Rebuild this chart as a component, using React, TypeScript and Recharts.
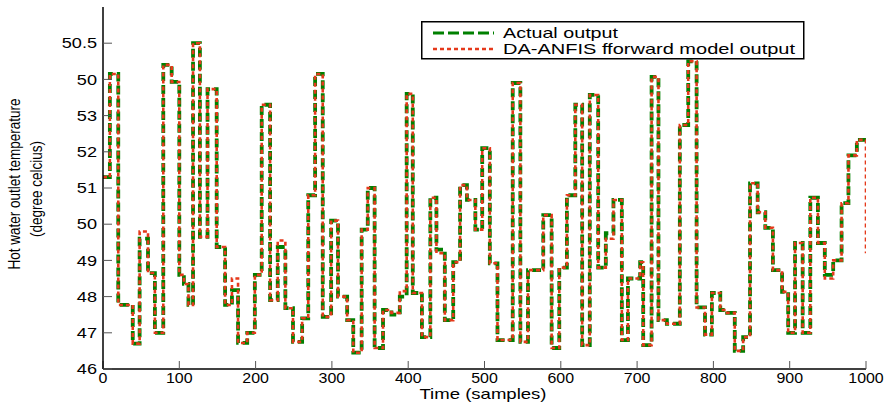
import React from 'react';
import { LineChart, Line, XAxis, YAxis, Legend } from 'recharts';

const SAMPLE = [
  0, 9, 20, 39, 48, 59, 68, 79, 90, 100,
  106, 112, 118, 127, 137, 149, 160, 169, 177, 189,
  199, 208, 219, 229, 239, 249, 261, 269, 278, 288,
  299, 308, 320, 328, 339, 347, 356, 367, 378, 389,
  398, 406, 418, 429, 437, 448, 459, 468, 477, 488,
  497, 507, 517, 537, 547, 557, 577, 588, 598, 608,
  619, 628, 638, 649, 659, 669, 680, 688, 704, 708,
  719, 728, 739, 756, 767, 778, 789, 798, 809, 818,
  828, 839, 848, 858, 868, 878, 890, 898, 907, 917,
  927, 937, 946, 957, 968, 977, 988, 1000,
];

const ACTUAL = [
  51.3, 54.15, 47.77, 46.7, 49.6, 48.65, 47.0, 54.4, 53.93, 48.6,
  48.35, 47.77, 55.0, 49.65, 53.73, 49.37, 47.77, 48.18, 46.72, 47.0,
  48.6, 53.3, 47.9, 49.37, 47.68, 46.75, 47.4, 50.8, 54.15, 47.44,
  50.1, 48.0, 47.35, 46.45, 49.85, 51.0, 46.58, 47.63, 47.5, 48.0,
  53.6, 48.1, 46.88, 50.73, 49.3, 47.35, 48.95, 51.08, 50.67, 49.85,
  52.1, 48.92, 46.8, 53.9, 46.75, 48.73, 50.25, 46.58, 48.8, 50.8,
  53.3, 46.66, 53.57, 48.8, 49.75, 50.67, 46.8, 48.5, 48.95, 46.66,
  54.07, 47.35, 47.25, 52.74, 54.5, 47.7, 46.95, 48.1, 47.63, 47.55,
  46.5, 46.88, 51.13, 50.33, 49.9, 48.73, 48.13, 47.0, 49.48, 47.0,
  50.73, 49.48, 48.6, 49.0, 50.58, 51.9, 52.33, 52.33,
];

const MODEL = [
  51.3, 54.15, 47.77, 46.7, 49.8, 48.65, 47.0, 54.4, 53.93, 48.6,
  48.35, 47.77, 55.0, 49.65, 53.73, 49.37, 47.77, 48.5, 46.72, 47.0,
  48.6, 53.3, 47.9, 49.55, 47.68, 46.75, 47.4, 50.8, 54.15, 47.44,
  50.1, 48.0, 47.35, 46.45, 49.85, 51.0, 46.58, 47.63, 47.55, 48.15,
  53.6, 48.1, 46.88, 50.73, 49.2, 47.35, 48.95, 51.08, 50.67, 49.85,
  52.1, 48.92, 46.8, 53.9, 46.75, 48.73, 50.25, 46.58, 48.8, 50.8,
  53.3, 46.66, 53.57, 48.8, 49.6, 50.67, 46.8, 48.5, 48.95, 46.66,
  54.07, 47.35, 47.25, 52.74, 54.5, 47.7, 46.95, 48.1, 47.63, 47.55,
  46.5, 46.88, 51.13, 50.33, 49.9, 48.73, 48.13, 47.0, 49.48, 47.0,
  50.73, 49.48, 48.5, 49.0, 50.58, 51.9, 52.33, 49.2,
];

const X_TICKS = [0, 100, 200, 300, 400, 500, 600, 700, 800, 900, 1000];
const Y_TICKS = [46, 47, 48, 49, 50, 51, 52, 53, 54, 55];
const Y_TICK_LABELS = ['46', '47', '48', '49', '50', '51', '52', '53', '50', '50.5'];

const SERIES_NAMES = ['Actual output', 'DA-ANFIS fforward model output'];
const X_TITLE = 'Time (samples)';
const Y_TITLE = ['Hot water outlet temperature', '(degree celcius)'];

const GREEN = '#008000';
const RED = '#e5391b';
const FONT = '"Liberation Sans", Arial, Helvetica, sans-serif';

const data = SAMPLE.map((s, i) => ({ sample: s, actual: ACTUAL[i], model: MODEL[i] }));

const YTick = (props: any) => {
  const { x, y, payload } = props;
  const idx = Y_TICKS.indexOf(payload.value);
  const label = idx >= 0 ? Y_TICK_LABELS[idx] : String(payload.value);
  return (
    <text
      transform={`translate(${x},${y}) scale(1.25,1)`}
      x={0}
      y={0}
      dy="0.36em"
      textAnchor="end"
      fontSize={14.5}
      fill="#000"
      fontFamily={FONT}
    >
      {label}
    </text>
  );
};

const XTick = (props: any) => {
  const { x, y, payload } = props;
  return (
    <text
      transform={`translate(${x},${y}) scale(1.1,1)`}
      x={0}
      y={0}
      dy="0.72em"
      textAnchor="middle"
      fontSize={14.5}
      fill="#000"
      fontFamily={FONT}
    >
      {payload.value}
    </text>
  );
};

const YTitle = () => (
  <g fontFamily={FONT} fontSize={13.5} fill="#000">
    <text transform="translate(20,184) scale(1.2,1) rotate(-90)" textAnchor="middle">
      {Y_TITLE[0]}
    </text>
    <text transform="translate(42,189) scale(1.2,1) rotate(-90)" textAnchor="middle">
      {Y_TITLE[1]}
    </text>
  </g>
);

const XTitle = () => (
  <text
    transform="translate(483,399) scale(1.28,1)"
    textAnchor="middle"
    fontSize={14.5}
    fill="#000"
    fontFamily={FONT}
  >
    {X_TITLE}
  </text>
);

const renderLegend = () => (
  <svg width={384} height={39} style={{ display: 'block', overflow: 'visible' }}>
    <rect x={0.75} y={0.75} width={382} height={37} fill="#fff" stroke="#000" strokeWidth={1.5} />
    <line x1={12} x2={73} y1={12} y2={12} stroke={GREEN} strokeWidth={3} strokeDasharray="11 4" />
    <text x={82} y={17} fontSize={14.5} fill="#000" fontFamily={FONT} textLength={115} lengthAdjust="spacingAndGlyphs">
      {SERIES_NAMES[0]}
    </text>
    <line x1={12} x2={73} y1={28} y2={28} stroke={RED} strokeWidth={2.5} strokeDasharray="4 3" />
    <text x={82} y={33} fontSize={14.5} fill="#000" fontFamily={FONT} textLength={292} lengthAdjust="spacingAndGlyphs">
      {SERIES_NAMES[1]}
    </text>
  </svg>
);

export default function App() {
  return (
    <div style={{ position: 'absolute', left: 0, top: 0, width: 890, height: 406, background: '#fff' }}>
      <LineChart
        width={890}
        height={406}
        data={data}
        margin={{ top: 7, right: 24, bottom: 0, left: 0 }}
        style={{ fontFamily: FONT }}
      >
        <XAxis
          dataKey="sample"
          type="number"
          domain={[0, 1000]}
          ticks={X_TICKS}
          allowDataOverflow
          height={37}
          tickSize={-8}
          tickMargin={12}
          tick={<XTick />}
          axisLine={{ stroke: '#000', strokeWidth: 1.5 }}
          tickLine={{ stroke: '#555', strokeWidth: 1 }}
          label={{ content: () => <XTitle /> }}
        />
        <XAxis
          xAxisId="top"
          orientation="top"
          dataKey="sample"
          type="number"
          domain={[0, 1000]}
          ticks={X_TICKS}
          allowDataOverflow
          height={0}
          tickSize={-7}
          tick={false}
          axisLine={{ stroke: '#000', strokeWidth: 1 }}
          tickLine={{ stroke: '#555', strokeWidth: 1 }}
        />
        <YAxis
          type="number"
          domain={[46, 56]}
          ticks={Y_TICKS}
          allowDataOverflow
          width={103}
          tickSize={-9}
          tickMargin={15}
          tick={<YTick />}
          axisLine={{ stroke: '#000', strokeWidth: 1.5 }}
          tickLine={{ stroke: '#555', strokeWidth: 1 }}
          label={{ content: () => <YTitle /> }}
        />
        <YAxis
          yAxisId="right"
          orientation="right"
          type="number"
          domain={[46, 56]}
          ticks={Y_TICKS}
          allowDataOverflow
          width={0}
          tickSize={-8}
          tick={false}
          axisLine={{ stroke: '#000', strokeWidth: 1 }}
          tickLine={{ stroke: '#555', strokeWidth: 1 }}
        />
        <Legend
          layout="horizontal"
          verticalAlign="middle"
          align="center"
          content={renderLegend}
          wrapperStyle={{ position: 'absolute', left: 421, top: 21, width: 384, height: 39 }}
        />
        <Line
          type="stepAfter"
          dataKey="actual"
          stroke={GREEN}
          strokeWidth={3.8}
          strokeDasharray="9 4"
          dot={false}
          isAnimationActive={false}
        />
        <Line
          type="stepAfter"
          dataKey="model"
          stroke={RED}
          strokeWidth={2.6}
          strokeDasharray="4 3"
          dot={false}
          isAnimationActive={false}
        />
      </LineChart>
    </div>
  );
}
